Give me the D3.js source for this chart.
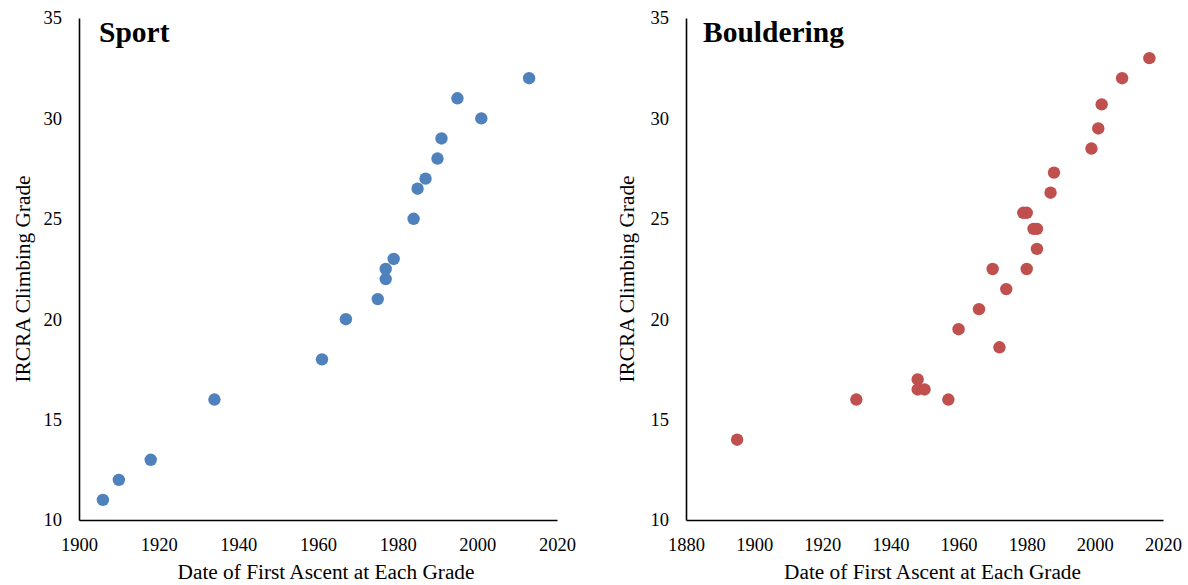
<!DOCTYPE html>
<html>
<head>
<meta charset="utf-8">
<script src="https://cdn.jsdelivr.net/npm/d3@7"></script>
<style>
  body { margin: 0; background: #fff; }
  svg { display: block; }
  text { font-family: "Liberation Serif", "Times New Roman", serif; fill: #000; }
</style>
</head>
<body>
<svg id="chart" width="1188" height="585"></svg>
<script>
"use strict";

// SPORT
const sportYears = [1906, 1910, 1918, 1934, 1961, 1967, 1975, 1977, 1977, 1979, 1984, 1985, 1987, 1990, 1991, 1995, 2001, 2013];
const sportGrades = [11, 12, 13, 16, 18, 20, 21, 22, 22.5, 23, 25, 26.5, 27, 28, 29, 31, 30, 32];

// BOULDERING
const boulderYears = [1895, 1930, 1948, 1948, 1950, 1957, 1960, 1966, 1972, 1974, 1970, 1980, 1983, 1982, 1983, 1979, 1980, 1987, 1988, 1999, 2001, 2002, 2008, 2016];
const boulderGrades = [14, 16, 17, 16.5, 16.5, 16, 19.5, 20.5, 18.6, 21.5, 22.5, 22.5, 23.5, 24.5, 24.5, 25.3, 25.3, 26.3, 27.3, 28.5, 29.5, 30.7, 32, 33];

const yTicks = [10, 15, 20, 25, 30, 35];
const sportXTicks = [1900, 1920, 1940, 1960, 1980, 2000, 2020];
const boulderXTicks = [1880, 1900, 1920, 1940, 1960, 1980, 2000, 2020];

const svg = d3.select("#chart");

const panels = [
	{
		title: "Sport",
		years: sportYears,
		grades: sportGrades,
		xDomain: [1900, 2020],
		xTicks: sportXTicks,
		color: "#4f81bd",
		left: 79,
		right: 557,
		titleOffset: 20,
		yTitleX: 30,
	},
	{
		title: "Bouldering",
		years: boulderYears,
		grades: boulderGrades,
		xDomain: [1880, 2020],
		xTicks: boulderXTicks,
		color: "#c0504d",
		left: 686,
		right: 1163,
		titleOffset: 17,
		yTitleX: 634,
	},
];

const plotTop = 18;
const plotBottom = 520;
const serif = '"Liberation Serif", "Times New Roman", serif';

panels.forEach((p) => {
	const x = d3.scaleLinear().domain(p.xDomain).range([p.left, p.right]);
	const y = d3.scaleLinear().domain([10, 35]).range([plotBottom, plotTop]);

	const g = svg.append("g");

	// axes
	const xAxis = g
		.append("g")
		.attr("transform", `translate(0,${plotBottom})`)
		.call(d3.axisBottom(x).tickValues(p.xTicks).tickSize(0).tickPadding(18).tickFormat(d3.format("d")));
	const yAxis = g
		.append("g")
		.attr("transform", `translate(${p.left},0)`)
		.call(d3.axisLeft(y).tickValues(yTicks).tickSize(0).tickPadding(17));

	[xAxis, yAxis].forEach((a) => {
		a.attr("font-family", serif);
		a.select(".domain").attr("stroke", "#000").attr("stroke-width", 1.6);
		a.selectAll("text")
			.style("font-family", serif)
			.style("font-size", "18.5px")
			.attr("fill", "#000");
	});

	// points
	const pts = p.years.map((yr, i) => ({ yr: yr, grade: p.grades[i] }));
	g.selectAll("circle")
		.data(pts)
		.enter()
		.append("circle")
		.attr("cx", (d) => x(d.yr))
		.attr("cy", (d) => y(d.grade))
		.attr("r", 6.2)
		.attr("fill", p.color);

	// titles
	g.append("text")
		.attr("x", p.left + p.titleOffset)
		.attr("y", 42)
		.style("font-family", serif)
		.style("font-size", "29.5px")
		.style("font-weight", "bold")
		.text(p.title);

	g.append("text")
		.attr("x", (p.left + p.right) / 2 + 8)
		.attr("y", 579)
		.attr("text-anchor", "middle")
		.style("font-family", serif)
		.style("font-size", "21.3px")
		.text("Date of First Ascent at Each Grade");

	g.append("text")
		.attr("transform", `translate(${p.yTitleX},${(plotTop + plotBottom) / 2 + 10}) rotate(-90)`)
		.attr("text-anchor", "middle")
		.style("font-family", serif)
		.style("font-size", "21.3px")
		.text("IRCRA Climbing Grade");
});
</script>
</body>
</html>
